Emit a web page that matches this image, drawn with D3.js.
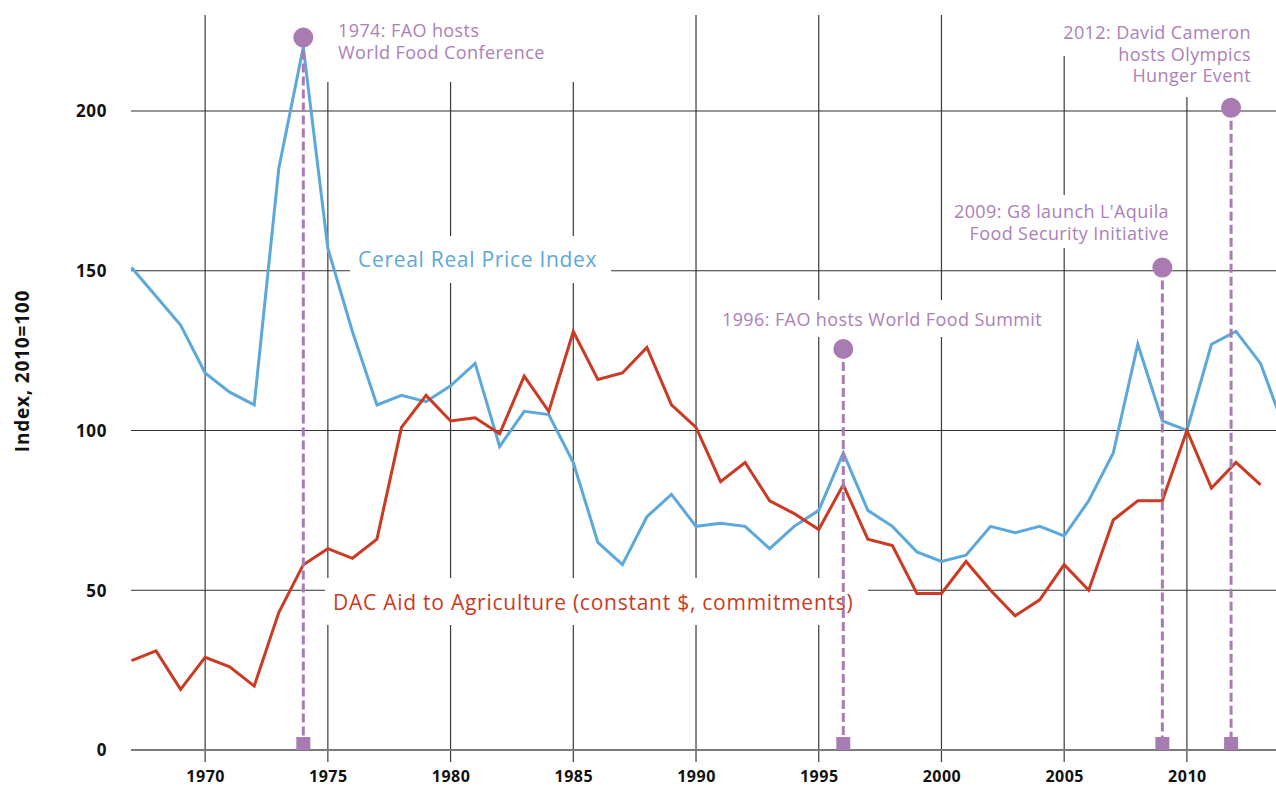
<!DOCTYPE html>
<html>
<head>
<meta charset="utf-8">
<script src="https://cdn.jsdelivr.net/npm/d3@7"></script>
<style>
  html, body { margin: 0; padding: 0; background: #fff; }
  svg { display: block; }
  text { font-family: "Open Sans", Lato, sans-serif; }
</style>
</head>
<body>
<svg id="chart" width="1276" height="790"></svg>
<script>
// ---------- DATA ----------
const years = d3.range(1967, 2015);
const cerealPrice = [151, 142, 133, 118, 112, 108, 182, 220, 157, 131, 108, 111, 109, 114, 121, 95, 106, 105, 90, 65, 58, 73, 80, 70, 71, 70, 63, 70, 75, 93, 75, 70, 62, 59, 61, 70, 68, 70, 67, 78, 93, 127, 103, 100, 127, 131, 121, 100];
const dacAid = [28, 31, 19, 29, 26, 20, 43, 58, 63, 60, 66, 101, 111, 103, 104, 99, 117, 106, 131, 116, 118, 126, 108, 101, 84, 90, 78, 74, 69, 83, 66, 64, 49, 49, 59, 50, 42, 47, 58, 50, 72, 78, 78, 100, 82, 90, 83];
const yTicks = [0, 50, 100, 150, 200];
const xTicks = [1970, 1975, 1980, 1985, 1990, 1995, 2000, 2005, 2010];
const eventYears = [1974, 1996, 2009, 2011.8];
const eventMarkerValues = [223, 125.5, 151, 201];
const eventLabels = [
  ["1974: FAO hosts", "World Food Conference"],
  ["1996: FAO hosts World Food Summit"],
  ["2009: G8 launch L'Aquila", "Food Security Initiative"],
  ["2012: David Cameron", "hosts Olympics", "Hunger Event"]
];
const seriesNames = ["Cereal Real Price Index", "DAC Aid to Agriculture (constant $, commitments)"];
const yTitle = "Index, 2010=100";

// ---------- LAYOUT ----------
const svg = d3.select("#chart");
const x = d3.scaleLinear().domain([1967, 2013.63]).range([131.5, 1276]);
const y = d3.scaleLinear().domain([0, 200]).range([750, 111]);
const purple = "#a97bb3";
const purpleText = "#ab80b8";
const blue = "#5ca8db";
const red = "#cb3a23";

// grid
const grid = svg.append("g");
grid.selectAll("line.v").data(xTicks).join("line")
  .attr("x1", d => x(d)).attr("x2", d => x(d))
  .attr("y1", 15).attr("y2", 762)
  .attr("stroke", "#3a3a3a").attr("stroke-width", 1.2);
grid.selectAll("line.h").data(yTicks).join("line")
  .attr("x1", 131).attr("x2", 1276)
  .attr("y1", d => y(d)).attr("y2", d => y(d))
  .attr("stroke", d => d === 0 ? "#7a7a7a" : "#333")
  .attr("stroke-width", d => d === 0 ? 2 : 1.2);

// white boxes behind labels (interrupt the grid)
const boxes = [
  [300, 10, 380, 72],    // 1974 annotation
  [350, 236, 261, 47],   // cereal label
  [325, 578, 543, 47],   // DAC label
  [712, 300, 340, 37],   // 1996 annotation
  [945, 195, 235, 53],   // 2009 annotation
  [1055, 10, 215, 46],   // 2012 line 1
  [1105, 42, 165, 22],   // 2012 line 2
  [1120, 60, 150, 37]    // 2012 line 3
];
svg.append("g").selectAll("rect").data(boxes).join("rect")
  .attr("x", d => d[0]).attr("y", d => d[1])
  .attr("width", d => d[2]).attr("height", d => d[3])
  .attr("fill", "#fff");

// axis labels
const yAxis = d3.axisLeft(y).tickValues(yTicks).tickSize(0).tickPadding(0);
svg.append("g").attr("transform", "translate(107,0)").call(yAxis)
  .call(g => g.select(".domain").remove())
  .selectAll("text")
  .attr("font-family", "'Open Sans', sans-serif")
  .attr("font-size", 17).attr("font-weight", 700).attr("fill", "#111")
  .attr("letter-spacing", 0.6)
  .attr("dy", "0.35em");
const xAxis = d3.axisBottom(x).tickValues(xTicks).tickFormat(d3.format("d")).tickSize(0).tickPadding(0);
svg.append("g").attr("transform", "translate(0,771)").call(xAxis)
  .call(g => g.select(".domain").remove())
  .selectAll("text")
  .attr("font-family", "'Open Sans', sans-serif")
  .attr("font-size", 16).attr("font-weight", 700).attr("fill", "#111")
  .attr("letter-spacing", 0.5)
  .attr("dy", "0.71em");

svg.append("text")
  .attr("transform", "translate(29,371) rotate(-90)")
  .attr("text-anchor", "middle")
  .attr("font-size", 19).attr("font-weight", 700).attr("fill", "#111")
  .attr("letter-spacing", 0.8)
  .text(yTitle);

// lines
const line = d3.line().x((d, i) => x(years[i])).y(d => y(d));
svg.append("path").datum(cerealPrice).attr("d", line)
  .attr("fill", "none").attr("stroke", blue).attr("stroke-width", 3)
  .attr("stroke-linejoin", "miter");
svg.append("path").datum(dacAid).attr("d", line)
  .attr("fill", "none").attr("stroke", red).attr("stroke-width", 3)
  .attr("stroke-linejoin", "miter");

// series labels
svg.append("text").attr("x", 358).attr("y", 267)
  .attr("font-size", 21).attr("letter-spacing", 0.7).attr("fill", blue).text(seriesNames[0]);
svg.append("text").attr("x", 333).attr("y", 610)
  .attr("font-size", 21).attr("letter-spacing", 0.75).attr("fill", red).text(seriesNames[1]);

// events
const ev = svg.append("g");
ev.selectAll("line").data(eventYears).join("line")
  .attr("x1", d => x(d)).attr("x2", d => x(d))
  .attr("y1", (d, i) => y(eventMarkerValues[i])).attr("y2", y(0) - 10)
  .attr("stroke", purple).attr("stroke-width", 3)
  .attr("stroke-dasharray", "9,4");
ev.selectAll("circle").data(eventYears).join("circle")
  .attr("cx", d => x(d)).attr("cy", (d, i) => y(eventMarkerValues[i]))
  .attr("r", 10).attr("fill", purple);
ev.selectAll("rect").data(eventYears).join("rect")
  .attr("x", d => x(d) - 7).attr("y", y(0) - 13)
  .attr("width", 14).attr("height", 13).attr("fill", purple);

// event labels
const labelPos = [
  {x: 338, y: 37, anchor: "start"},
  {x: 882, y: 326, anchor: "middle"},
  {x: 1169, y: 218, anchor: "end"},
  {x: 1251, y: 39, anchor: "end"}
];
eventLabels.forEach((lines, i) => {
  const t = svg.append("text")
    .attr("x", labelPos[i].x).attr("y", labelPos[i].y)
    .attr("text-anchor", labelPos[i].anchor)
    .attr("font-size", 18).attr("letter-spacing", 0.4).attr("fill", purpleText);
  lines.forEach((s, j) => {
    t.append("tspan").attr("x", labelPos[i].x).attr("dy", j === 0 ? 0 : 21.5).text(s);
  });
});
</script>
</body>
</html>
